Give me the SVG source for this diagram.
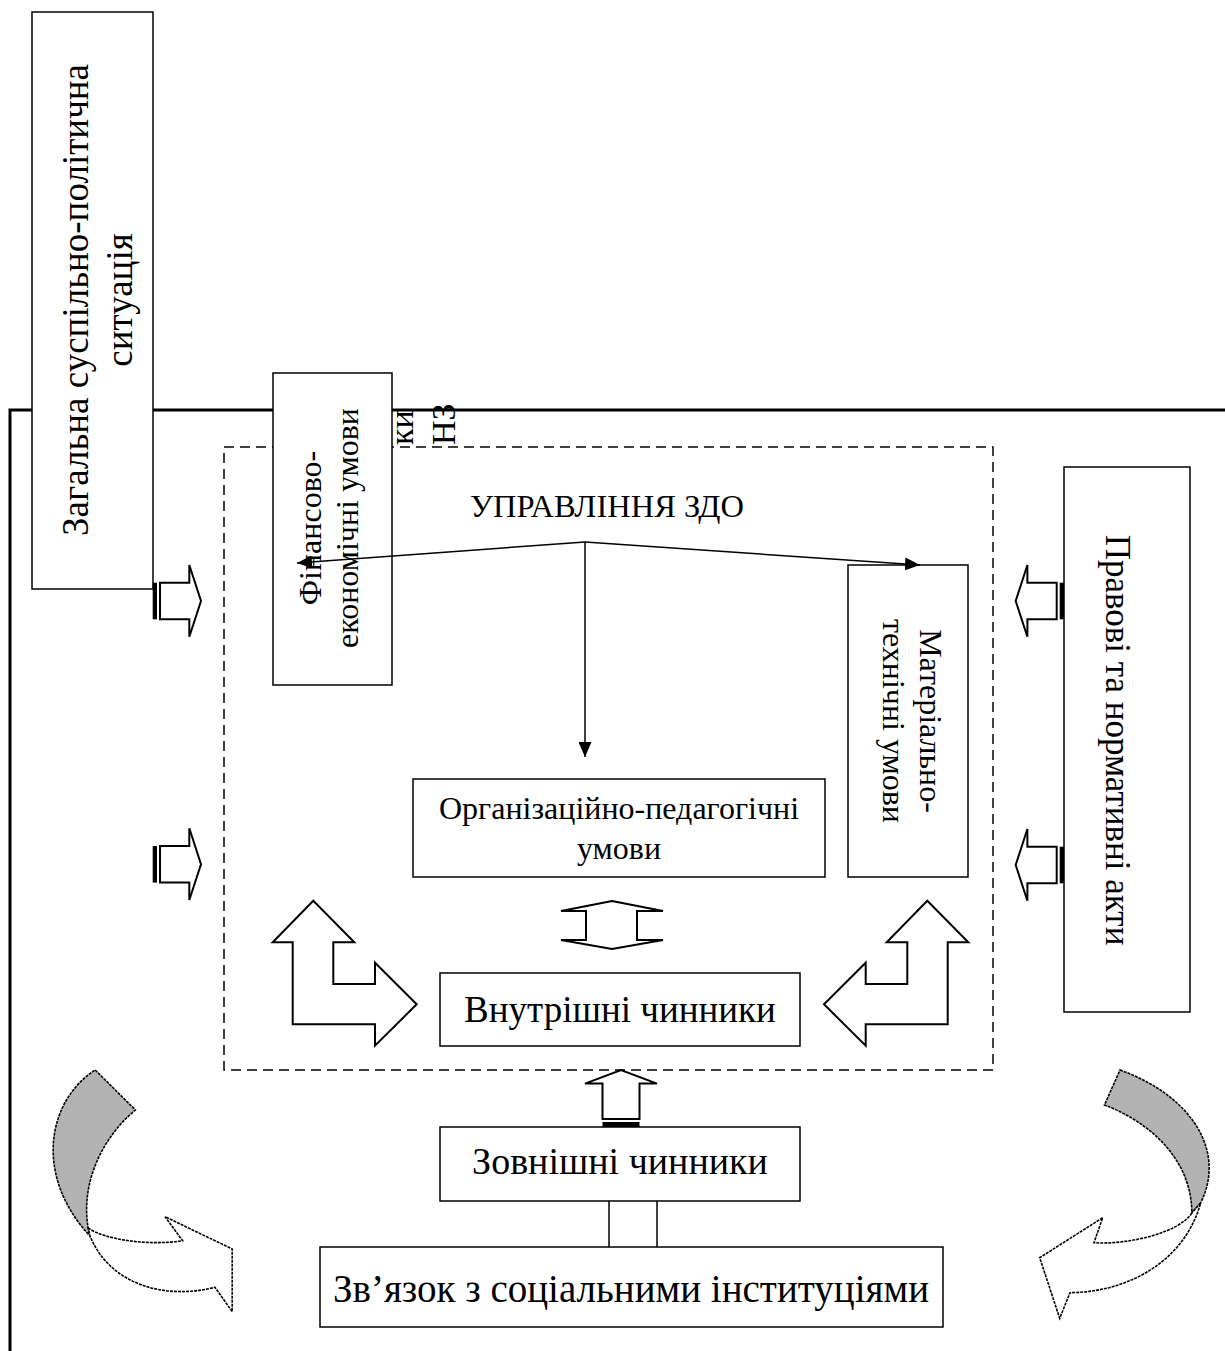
<svg xmlns="http://www.w3.org/2000/svg" width="1225" height="1351" viewBox="0 0 1225 1351">
<style>
.box{fill:#fff;stroke:#000;stroke-width:1.5}
.t{font-family:"Liberation Serif","Times New Roman","DejaVu Serif",serif;fill:#000}
.dash{fill:none;stroke:#000;stroke-width:1.5;stroke-dasharray:10 6}
.ol{fill:#fff;stroke:#000;stroke-width:2}
.ln{fill:none;stroke:#000;stroke-width:1.5}
.cv{stroke:#000;stroke-width:1.6;stroke-dasharray:3 1}
</style>
<defs>
<marker id="ah" viewBox="0 0 15 13" refX="15" refY="6.5" markerWidth="15" markerHeight="13" markerUnits="userSpaceOnUse" orient="auto"><path d="M0,0 L15,6.5 L0,13 Z" fill="#000"/></marker>
<g id="sarrow">
<rect x="-48.3" y="-18.3" width="4.3" height="36.6" fill="#000"/>
<polygon class="ol" points="-41,-18.3 -11.7,-18.3 -11.7,-36 0,0 -11.7,35.7 -11.7,18.3 -41,18.3"/>
</g>
</defs>
<rect width="1225" height="1351" fill="#fff"/>
<g id="frame">
<path d="M10,1351 V410 H1225" fill="none" stroke="#000" stroke-width="3"/>
</g>
<g id="zdo-area">
<rect class="dash" x="224" y="447" width="769" height="623"/>
</g>
<g id="n-zagalna">
<rect class="box" x="32" y="12" width="121" height="577"/>
<text class="t" font-size="37" text-anchor="middle" transform="translate(88,300) rotate(-90)">Загальна суспільно-політична</text>
<text class="t" font-size="37" text-anchor="middle" transform="translate(132,300) rotate(-90)">ситуація</text>
</g>
<g id="n-finansovo">
<rect class="box" x="273" y="373" width="119" height="312"/>
<text class="t" font-size="32" text-anchor="middle" transform="translate(321,528) rotate(-90)">Фінансово-</text>
<text class="t" font-size="32" text-anchor="middle" transform="translate(358,528) rotate(-90)">економічні умови</text>
</g>
<g id="n-overflow">
<text class="t" font-size="34" transform="translate(413,445) rotate(-90)">ки</text>
<text class="t" font-size="34" transform="translate(455,445) rotate(-90)">НЗ</text>
</g>
<g id="n-upravlinnia">
<text class="t" font-size="31" x="607" y="517" text-anchor="middle" textLength="274" lengthAdjust="spacingAndGlyphs">УПРАВЛІННЯ ЗДО</text>
</g>
<g id="n-material">
<rect class="box" x="848" y="565" width="120" height="312"/>
<text class="t" font-size="32" text-anchor="middle" transform="translate(920,721) rotate(90)">Матеріально-</text>
<text class="t" font-size="32" text-anchor="middle" transform="translate(883,721) rotate(90)">технічні умови</text>
</g>
<g id="n-orgped">
<rect class="box" x="413" y="779" width="412" height="98"/>
<text class="t" font-size="32" x="619" y="819" text-anchor="middle">Організаційно-педагогічні</text>
<text class="t" font-size="32" x="619" y="859" text-anchor="middle">умови</text>
</g>
<g id="n-vnutrishni">
<rect class="box" x="440" y="973" width="360" height="73"/>
<text class="t" font-size="37" x="620" y="1022" text-anchor="middle">Внутрішні чинники</text>
</g>
<g id="n-pravovi">
<rect class="box" x="1064" y="467" width="126" height="545"/>
<text class="t" font-size="35" text-anchor="middle" transform="translate(1106,740) rotate(90)">Правові та нормативні акти</text>
</g>
<g id="n-zovnishni">
<rect class="box" x="440" y="1127" width="360" height="74"/>
<text class="t" font-size="38" x="620" y="1174" text-anchor="middle">Зовнішні чинники</text>
</g>
<g id="n-zviazok">
<rect class="box" x="320" y="1247" width="623" height="80"/>
<text class="t" font-size="39" x="631" y="1302" text-anchor="middle">Зв’язок з соціальними інституціями</text>
</g>
<g id="connectors">
<path class="ln" d="M585,542 L297,563" marker-end="url(#ah)"/>
<path class="ln" d="M585,542 L920,565" marker-end="url(#ah)"/>
<path class="ln" d="M585,542 L585,757" marker-end="url(#ah)"/>
<path class="ln" d="M609,1201 V1247 M657,1201 V1247"/>
<use href="#sarrow" transform="translate(201,601)"/>
<use href="#sarrow" transform="translate(201,864.3)"/>
<use href="#sarrow" transform="translate(1015.7,601) scale(-1,1)"/>
<use href="#sarrow" transform="translate(1015.7,865) scale(-1,1)"/>
<polygon class="ol" points="602.5,1119 602.5,1083.6 585,1083.6 621,1070 657,1083.6 639.5,1083.6 639.5,1119"/>
<rect x="602.5" y="1122" width="37" height="5" fill="#000"/>
<polygon class="ol" points="612,901 663,911 637,911 637,940 663,940 612,949 561,940 586,940 586,911 561,911"/>
<polygon class="ol" points="313.3,900.7 354.3,942.3 333.3,942.3 333.3,984 375,984 375,962.7 416.7,1004.3 375,1045.7 375,1024.3 292.7,1024.3 292.7,942.3 272.7,942.3"/>
<polygon class="ol" points="927.3,900.7 968.3,942.3 947.7,942.3 947.7,1024.3 865.7,1024.3 865.7,1045.7 824,1004.3 865.7,962.7 865.7,984 907.3,984 907.3,942.3 886.7,942.3"/>
<path class="cv" fill="#b3b3b3" d="M95.2,1070 L135.4,1110 C105,1135 80,1180 88.2,1228 L90,1236 C33,1175 48,1100 95.2,1070 Z"/>
<path class="cv" fill="#fff" d="M88.2,1228 C105,1240 150,1246 182.6,1240.7 L165,1216.7 L232.2,1249 L232.2,1311.7 L215,1287.3 C165,1300 110,1285 90,1236 Z"/>
<path class="cv" fill="#b3b3b3" d="M1120,1070 C1190,1095 1227,1150 1200.6,1203 L1191.8,1213 C1192,1160 1150,1122 1104.4,1105 Z"/>
<path class="cv" fill="#fff" d="M1191.8,1213 C1180,1232 1130,1245 1094,1242.7 L1102.7,1217.7 L1039.7,1257.7 L1059.7,1318.3 L1070,1292.7 C1130,1292 1185,1260 1200.6,1203 Z"/>
</g>
</svg>
